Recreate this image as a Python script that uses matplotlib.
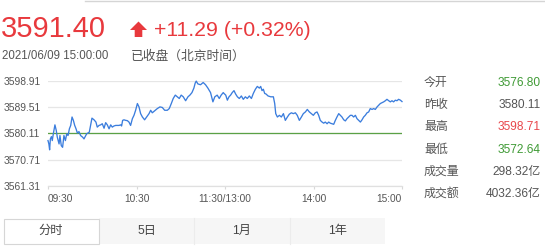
import matplotlib
matplotlib.use("Agg")
import matplotlib.pyplot as plt
from matplotlib.patches import Polygon, Rectangle
from matplotlib.lines import Line2D

plt.rcParams['font.family'] = ['Liberation Sans', 'Noto Sans CJK SC', 'DejaVu Sans']

# ---------------- data ----------------
last_price = "3591.40"
change_text = "+11.29 (+0.32%)"
timestamp = "2021/06/09 15:00:00"
status_text = "已收盘（北京时间）"
prev_close = 3580.11
y_ticks = [3561.31, 3570.71, 3580.11, 3589.51, 3598.91]
y_labels = ["3561.31", "3570.71", "3580.11", "3589.51", "3598.91"]
x_ticks = [0, 60, 120, 180, 240]
x_labels = ["09:30", "10:30", "11:30/13:00", "14:00", "15:00"]

# trading minutes since 09:30 (lunch break removed)
minutes = [0.0, 0.6, 1.1, 1.6, 2.3, 2.9, 3.6, 4.7, 5.6, 6.3, 7.5, 8.1, 9.0, 9.9, 10.8, 11.8,
           12.7, 13.6, 14.5, 15.4, 16.3, 17.2, 18.1, 19.0, 19.9, 21.0, 22.1, 23.5, 24.4, 25.3,
           26.2, 27.1, 28.0, 28.9, 29.8, 31.2, 32.5, 33.4, 34.6, 35.7, 36.8, 38.0, 39.1, 40.2,
           41.4, 42.5, 43.6, 44.7, 45.9, 47.0, 48.1, 49.3, 49.9, 50.6, 51.5, 52.7, 53.8, 54.9,
           56.0, 57.2, 58.3,
           59.4, 60.6, 61.7, 62.8, 64.0, 65.5, 66.9, 68.5, 69.6, 70.7, 72.3, 74.1, 75.9, 77.5,
           79.1, 80.9, 82.2, 83.6, 84.9, 86.3, 87.6, 89.0, 90.3, 91.7, 93.3, 94.9, 96.2, 97.6,
           98.9, 99.8, 100.5, 101.6, 103.4, 105.2, 106.8, 108.4, 110.2, 111.8, 113.1, 114.7,
           116.1, 117.4, 118.8,
           119.3, 120.5, 121.6, 122.7, 123.8, 124.9, 126.1, 127.2, 128.4, 129.7, 131.1, 132.4,
           133.8, 135.1, 136.5, 137.9, 139.2, 140.6, 141.9, 143.3, 144.2, 145.1, 146.0, 146.9,
           147.8, 149.2, 151.0, 152.8, 153.7, 154.4, 155.5, 156.9, 158.2, 159.6, 160.9, 162.3,
           163.6, 165.0, 166.3, 167.7, 169.0, 170.4, 171.8, 173.1, 174.5, 175.8, 177.2, 178.6,
           179.9, 181.2, 182.4, 183.5, 184.6, 185.8, 186.9, 188.0, 189.2, 190.3, 191.4, 192.5,
           193.7, 194.8, 195.9, 197.1, 198.2, 199.3, 200.5, 201.6, 202.7, 203.8, 205.0, 206.1,
           207.2, 208.4, 209.5, 210.6, 211.8, 212.9, 214.0, 215.1, 216.3, 217.4, 218.5, 219.7,
           220.8, 221.9, 223.1, 224.2, 225.3, 226.4, 227.6, 228.7, 229.8, 231.0, 232.1, 233.2,
           234.3, 235.5, 236.6, 237.7, 238.9, 240.0]
prices = [3577.5, 3576.3, 3574.2, 3578.1, 3578.9, 3577.5, 3579.9, 3583.1, 3581.1, 3578.7, 3576.3,
          3579.3, 3575.7, 3575.1, 3579.3, 3577.5, 3579.9, 3579.3, 3581.7, 3582.9, 3585.9, 3584.7,
          3582.9, 3581.7, 3580.2, 3580.7, 3579.3, 3578.7, 3578.1, 3579.0, 3579.9, 3580.2, 3580.5,
          3582.9, 3585.5, 3584.9, 3584.1, 3582.3, 3582.9, 3583.1, 3583.5, 3581.9, 3583.9, 3583.1,
          3581.7, 3583.1, 3582.3, 3582.7, 3582.9, 3582.9, 3582.9, 3583.1, 3582.7, 3584.7, 3584.9,
          3584.7, 3584.6, 3584.1, 3582.9, 3585.3, 3586.5,
          3588.3, 3590.7, 3589.5, 3587.1, 3585.9, 3584.9, 3585.9, 3587.1, 3588.3, 3587.4, 3588.1,
          3588.9, 3589.5, 3589.3, 3588.3, 3588.3, 3588.9, 3590.7, 3592.5, 3593.7, 3593.1, 3592.5,
          3593.7, 3593.1, 3591.7, 3593.1, 3593.7, 3594.6, 3596.2, 3598.0, 3598.7, 3597.7, 3597.4,
          3598.2, 3597.4, 3596.2, 3594.6, 3591.3, 3593.1, 3593.7, 3592.5, 3593.7, 3594.6,
          3594.3, 3593.7, 3591.9, 3593.1, 3593.7, 3594.6, 3595.3, 3594.1, 3593.1, 3592.5, 3593.4,
          3592.2, 3593.1, 3592.5, 3593.4, 3592.5, 3594.3, 3595.8, 3596.8, 3596.2, 3596.8, 3595.3,
          3595.8, 3594.3, 3594.1, 3593.4, 3593.1, 3593.1, 3590.7, 3587.1, 3585.9, 3586.5, 3585.9,
          3587.1, 3584.7, 3585.9, 3586.9, 3587.4, 3587.1, 3587.4, 3586.5, 3584.7, 3585.9, 3587.1,
          3587.7, 3588.6, 3587.7, 3587.1,
          3586.5, 3587.4, 3587.7, 3586.5, 3584.7, 3584.1, 3583.7, 3584.1, 3583.5, 3584.1, 3583.7,
          3583.5, 3583.3, 3584.7, 3585.9, 3587.1, 3586.5, 3585.9, 3584.9, 3584.5, 3585.3, 3585.9,
          3586.5, 3586.5, 3585.9, 3586.5, 3585.3, 3584.7, 3584.1, 3584.9, 3585.9, 3586.5, 3587.4,
          3587.7, 3588.9, 3588.6, 3588.9, 3588.6, 3589.5, 3590.1, 3590.7, 3591.0, 3591.3, 3591.7,
          3592.2, 3591.7, 3591.3, 3591.7, 3591.3, 3591.9, 3591.7, 3592.2, 3591.9, 3591.4]

stat_labels = ["今开", "昨收", "最高", "最低", "成交量", "成交额"]
stat_values = ["3576.80", "3580.11", "3598.71", "3572.64", "298.32亿", "4032.36亿"]
stat_colors = ["#3f9a35", "#555555", "#e8474b", "#3f9a35", "#555555", "#555555"]
tab_labels = ["分时", "5日", "1月", "1年"]

# ---------------- figure ----------------
W, H = 545, 250
fig = plt.figure(figsize=(W / 100, H / 100), dpi=100)
fig.patch.set_facecolor('white')


def fx(x):
    return x / W


def fy(y):
    return 1 - y / H


RED = "#e8393d"
GRAY = "#555555"

# top faint border
fig.add_artist(Line2D([fx(85), 1], [fy(0.5), fy(0.5)], color="#d5d5d5", lw=1.0))

# header
fig.text(fx(1), fy(37), last_price, color=RED, fontsize=21, va='baseline', ha='left')
arrow = [(130, 30), (138.5, 21.5), (147, 30), (142.3, 30), (142.3, 37), (134.7, 37), (134.7, 30)]
fig.add_artist(Polygon([(fx(a), fy(b)) for a, b in arrow], closed=True,
                       transform=fig.transFigure, facecolor=RED, edgecolor='none'))
fig.text(fx(154), fy(36.5), change_text, color=RED, fontsize=15.3, va='baseline', ha='left')
fig.text(fx(2.5), fy(59), timestamp, color=GRAY, fontsize=8.3, va='baseline', ha='left')
fig.text(fx(131), fy(59.5), status_text, color=GRAY, fontsize=9.2, va='baseline', ha='left')

# chart
left, right, top, bottom = 48, 402, 80.5, 186
ax = fig.add_axes([fx(left), fy(bottom), (right - left) / W, (bottom - top) / H])
ax.set_facecolor('none')
ax.plot(minutes, prices, color="#3b7ddd", lw=0.95, clip_on=False, zorder=3)
ax.axhline(prev_close, color="#5ba145", lw=0.9, zorder=2)
ax.set_xlim(0, 240)
ax.set_ylim(y_ticks[0], y_ticks[-1])
ax.set_yticks(y_ticks, y_labels)
ax.set_xticks(x_ticks, x_labels)
ax.grid(axis='y', color="#e6e6e6", lw=0.9)
for s in ['left', 'right', 'top']:
    ax.spines[s].set_visible(False)
ax.spines['bottom'].set_color("#e0e0e0")
ax.spines['bottom'].set_linewidth(0.9)
ax.tick_params(axis='y', length=0, pad=32.2, labelsize=7.4, labelcolor=GRAY)
ax.tick_params(axis='x', length=2.5, width=0.8, color="#d8d8d8", pad=3.2,
               labelsize=7.3, labelcolor=GRAY)
for lbl in ax.get_yticklabels():
    lbl.set_ha('left')
xl = ax.get_xticklabels()
xl[0].set_ha('left')
xl[-1].set_ha('right')

# right-hand stats
for i, (lab, val, col) in enumerate(zip(stat_labels, stat_values, stat_colors)):
    yc = 82.7 + i * 22.3
    fig.text(fx(424), fy(yc), lab, color=GRAY, fontsize=8.6, va='center', ha='left')
    fig.text(fx(540.5), fy(yc), val, color=col, fontsize=8.6, va='center', ha='right')

# tabs
tab_x = [3, 99, 194, 290, 385]
ty0, ty1 = 218, 244
fig.add_artist(Rectangle((fx(99), fy(ty1)), fx(385 - 99), (ty1 - ty0) / H,
                         transform=fig.transFigure, facecolor="#f6f6f6", edgecolor='none'))
for sx in tab_x[2:4]:
    fig.add_artist(Line2D([fx(sx), fx(sx)], [fy(ty1), fy(ty0)], color="#ececec", lw=0.8))
fig.add_artist(Rectangle((fx(3.5), fy(ty1 - 0.5)), fx(95), (ty1 - ty0 - 1) / H,
                         transform=fig.transFigure, facecolor="white", edgecolor="#d6d6d6", lw=0.8))
for i, t in enumerate(tab_labels):
    cx = (tab_x[i] + tab_x[i + 1]) / 2
    fig.text(fx(cx), fy(231), t, color="#444444", fontsize=8.8, va='center', ha='center')

fig.savefig("out.png", dpi=100, facecolor='white')
